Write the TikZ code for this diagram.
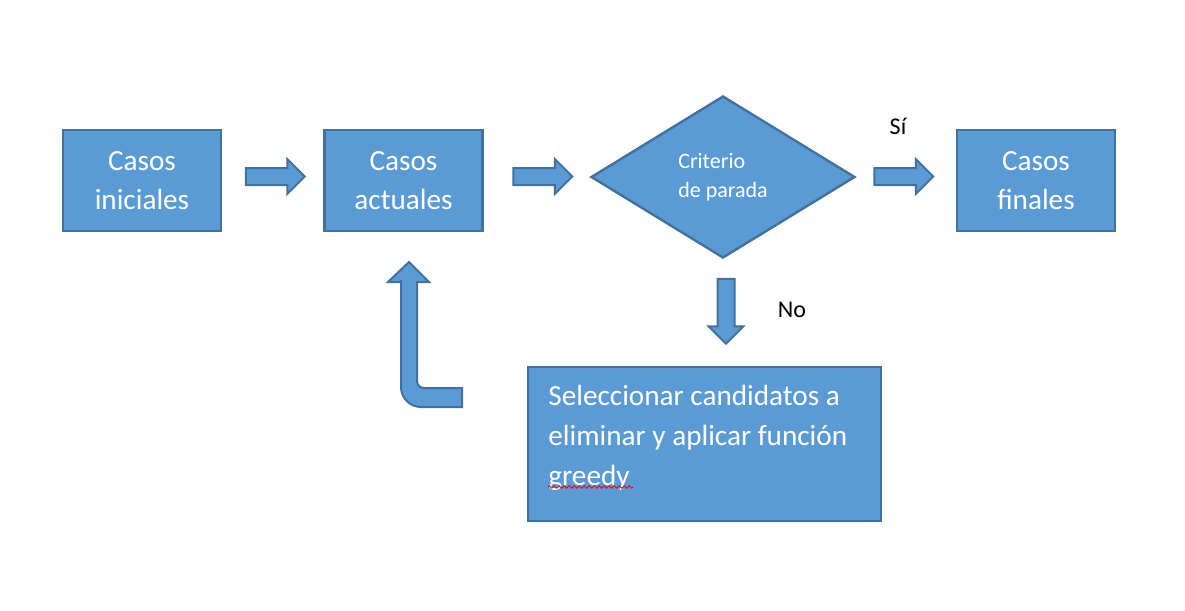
\documentclass[tikz,border=0pt]{standalone}
\usepackage{fontspec}
\setmainfont{Carlito}
\usetikzlibrary{shapes.geometric, shapes.arrows, positioning, decorations.pathmorphing}
\definecolor{cajafondo}{HTML}{5B9BD5}
\definecolor{cajaborde}{HTML}{41719C}

\begin{document}
\begin{tikzpicture}[x=0.5pt, y=-0.5pt,
    caja/.style={draw=cajaborde, fill=cajafondo, line width=1.2pt, text=white,
        minimum width=79pt, minimum height=50.5pt, inner sep=0pt, align=center,
        font=\fontsize{14.6}{19.5}\selectfont},
    flecha/.style={single arrow, draw=cajaborde, fill=cajafondo, line width=1pt,
        minimum height=29.5pt, inner sep=3.75pt, single arrow head extend=4.5pt,
        single arrow head indent=0pt},
    etiqueta/.style={font=\fontsize{12}{14}\selectfont}]
        \useasboundingbox (0,0) rectangle (1185,611);
        %
        \node[caja] (ini) at (142,180.5) {Casos\\iniciales};
        \node[caja] (act) at (403.5,180.5) {Casos\\actuales};
        \node[diamond, draw=cajaborde, fill=cajafondo, line width=1.2pt, text=white,
            minimum width=132pt, minimum height=81pt, inner sep=0pt, align=left,
            font=\fontsize{11}{14.5}\selectfont] (crit) at (723,177) {Criterio\\de parada};
        \node[caja] (fin) at (1036,180.5) {Casos\\finales};
        \node[caja, minimum width=176.5pt, minimum height=77pt] (sel) at (704.5,444) {};
        \node[anchor=north west, inner sep=0pt, text=white, align=left,
            font=\fontsize{14.6}{20}\selectfont] (seltxt) at (548,385)
            {Seleccionar candidatos a\\eliminar y aplicar función\\greedy};
        %
        \node[flecha] (f1) at (271,176.5) {};
        \node[flecha] (f2) at (538.5,176.5) {};
        \node[flecha] (f3) at (899.5,176.5) {};
        \node[flecha, rotate=-90, minimum height=32.5pt] (f4) at (726,307) {};
        %
        \draw[draw=cajaborde, fill=cajafondo, line width=1pt]
            (409,262) -- (429,282) -- (417,282) [rounded corners=3.5pt] -- (417,388)
            -- (440,388) [sharp corners] -- (462,388) -- (462,407) -- (440,407)
            [rounded corners=10pt] -- (401,407) -- (401,300) [sharp corners]
            -- (401,282) -- (388,282) -- cycle;
        %
        \node[etiqueta] (si) at (898,126) {Sí};
        \node[etiqueta] (no) at (792,310) {No};
        %
        \draw[red, line width=0.5pt, decorate,
            decoration={zigzag, segment length=2.5pt, amplitude=0.6pt}]
            (548,487) -- (633,487);
    \end{tikzpicture}
\end{document}
